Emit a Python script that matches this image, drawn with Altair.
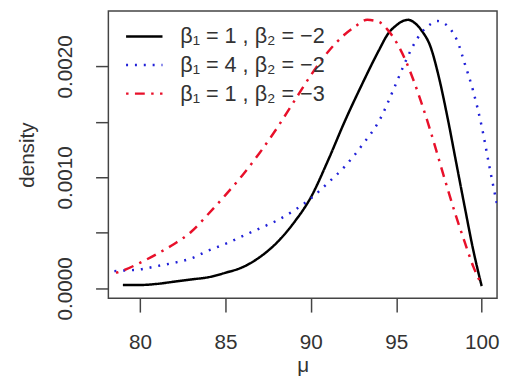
import altair as alt
import pandas as pd

# series 1: beta1=1, beta2=-2 (black solid)
mu_a = [79, 80, 81, 82, 83, 84, 85, 86, 87, 88, 89, 90, 91, 92, 93, 94, 94.5, 95, 95.4, 95.7, 96.1, 96.5, 97, 97.5, 98, 98.5, 99, 99.5, 100]
d_a = [0.00003, 0.00003, 0.00004, 0.00006, 0.00008, 0.00010, 0.00014, 0.00019, 0.00028, 0.00041, 0.00059, 0.00082, 0.00115, 0.00151, 0.00184, 0.00215, 0.00229, 0.00237, 0.00241, 0.00242, 0.00239, 0.00232, 0.00218, 0.00190, 0.00154, 0.00114, 0.00074, 0.00035, 0.00002]

# series 2: beta1=4, beta2=-2 (blue dotted)
mu_b = [78.5, 79, 80, 81, 82, 83, 84, 85, 86, 87, 88, 89, 90, 91, 92, 93, 94, 95, 95.5, 96, 96.5, 97, 97.4, 97.8, 98.2, 98.6, 99, 99.5, 100, 100.5, 101]
d_b = [0.000155, 0.00016, 0.00017, 0.00020, 0.00023, 0.00027, 0.00034, 0.00040, 0.00047, 0.00054, 0.00061, 0.00070, 0.00081, 0.00095, 0.00110, 0.00129, 0.00151, 0.00185, 0.00203, 0.00219, 0.00231, 0.00238, 0.00241, 0.00239, 0.00233, 0.00222, 0.00203, 0.00178, 0.00146, 0.00106, 0.00068]

# series 3: beta1=1, beta2=-3 (red dot-dash)
mu_c = [78.6, 79, 80, 81, 82, 83, 84, 85, 86, 87, 88, 89, 90, 91, 92, 92.6, 93.3, 94, 94.5, 95, 95.5, 96, 96.5, 97, 97.5, 98, 98.5, 99, 99.5, 100]
d_c = [0.00014, 0.00016, 0.00023, 0.00031, 0.00040, 0.00051, 0.00067, 0.00084, 0.00102, 0.00122, 0.00144, 0.00168, 0.00192, 0.00213, 0.00229, 0.00236, 0.00242, 0.00240, 0.00233, 0.00222, 0.00207, 0.00188, 0.00166, 0.00142, 0.00116, 0.00090, 0.00065, 0.00042, 0.00020, 0.00003]

labels = ["β₁ = 1 , β₂ = −2", "β₁ = 4 , β₂ = −2", "β₁ = 1 , β₂ = −3"]
colors = ["#000000", "#2020d8", "#e8102a"]
dashes = [[1, 0], [2, 7], [2.5, 6.5, 10, 6.5]]

x_ticks = [80, 85, 90, 95, 100]
y_ticks = [0.0, 0.0005, 0.0010, 0.0015, 0.0020]

rows = []
for lab, mus, ds in zip(labels, [mu_a, mu_b, mu_c], [d_a, d_b, d_c]):
    for i, (m, d) in enumerate(zip(mus, ds)):
        rows.append({"series": lab, "mu": m, "density": d, "order": i})
df = pd.DataFrame(rows)
leg_df = pd.DataFrame({"series": labels, "row": [0, 1, 2]})

FONT = "Liberation Sans"
color_scale = alt.Scale(domain=labels, range=colors)
dash_scale = alt.Scale(domain=labels, range=dashes)

lines = alt.Chart(df).mark_line(clip=True, strokeWidth=2.5, strokeCap="butt", interpolate="monotone").encode(
    x=alt.X("mu:Q", scale=alt.Scale(domain=[78.15, 100.9], nice=False, zero=False),
            axis=alt.Axis(values=x_ticks, title="μ", grid=False, domain=False,
                          tickSize=14, tickWidth=1.5, tickColor="#444", labelPadding=20,
                          labelFontSize=21, labelColor="#333", labelFont=FONT,
                          titleFontSize=21, titleFont=FONT, titleColor="#333",
                          titleFontWeight="normal", titlePadding=2)),
    y=alt.Y("density:Q", scale=alt.Scale(domain=[-0.00009, 0.0025], nice=False, zero=False),
            axis=alt.Axis(values=y_ticks, title="density", grid=False, domain=False,
                          tickSize=13, tickWidth=1.5, tickColor="#444",
                          labelExpr="round(datum.value*10000) % 10 == 0 ? format(datum.value, '.4f') : ''",
                          labelAngle=-90, labelAlign="center", labelBaseline="bottom", labelPadding=20,
                          labelFontSize=21, labelColor="#333", labelFont=FONT,
                          titleFontSize=21, titleFont=FONT, titleColor="#333",
                          titleFontWeight="normal", titlePadding=18)),
    color=alt.Color("series:N", scale=color_scale, legend=None),
    strokeDash=alt.StrokeDash("series:N", scale=dash_scale, legend=None),
    order="order:Q",
)

row_y = alt.Y("row:O", scale=alt.Scale(type="point", domain=[0, 1, 2], range=[26, 84], padding=0), axis=None)

leg_lines = alt.Chart(leg_df).mark_rule(strokeWidth=2.5, strokeCap="butt").encode(
    x=alt.value(18), x2=alt.value(55), y=row_y,
    color=alt.Color("series:N", scale=color_scale, legend=None),
    strokeDash=alt.StrokeDash("series:N", scale=dash_scale, legend=None),
)

leg_text = alt.Chart(leg_df).mark_text(align="left", baseline="middle", fontSize=22, font=FONT, color="#333").encode(
    x=alt.value(73), y=row_y, text="series:N",
)

chart = alt.layer(lines, leg_lines, leg_text).resolve_scale(y="independent").properties(
    width=395, height=292,
    padding={"left": 102, "top": 0, "right": 3, "bottom": 80},
    autosize=alt.AutoSizeParams(type="none"),
).configure_view(stroke="#444", strokeWidth=1.5)

chart.save("out.html", embed_options={"renderer": "svg", "actions": False})
